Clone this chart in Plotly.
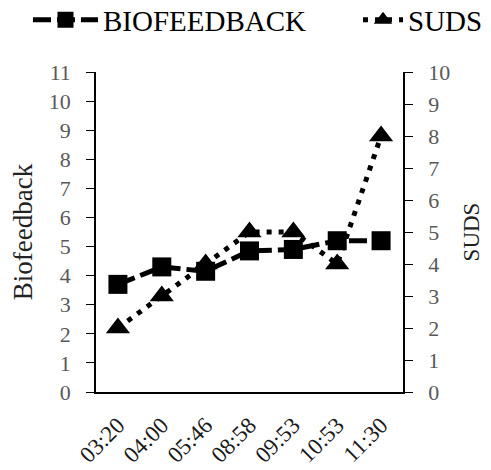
import plotly.graph_objects as go

times = ['03:20', '04:00', '05:46', '08:58', '09:53', '10:53', '11:30']
biofeedback = [3.7, 4.3, 4.15, 4.85, 4.9, 5.2, 5.2]
suds = [2, 3, 4, 5, 5, 4, 8]

serif = 'Times New Roman, Liberation Serif, serif'
grey = '#595959'

# the page body adds an 8px offset, so the figure is drawn 8px smaller
W, H = 483, 462

fig = go.Figure()
fig.add_trace(go.Scatter(x=times, y=biofeedback, name='BIOFEEDBACK', mode='lines+markers',
                         line=dict(color='black', width=5, dash='18px,6px'),
                         marker=dict(symbol='square', size=19, color='black'), legend='legend'))
fig.add_trace(go.Scatter(x=times, y=suds, name='SUDS', mode='lines+markers', yaxis='y2',
                         line=dict(color='black', width=5, dash='5px,7px'),
                         marker=dict(symbol='triangle-up', size=21, color='black'), legend='legend2'))

tick_font = dict(family=serif, size=22, color=grey)
legend_font = dict(family=serif, size=29, color='black')

fig.update_layout(
    width=W, height=H,
    margin=dict(l=88, r=88, t=64, b=78, autoexpand=False),
    paper_bgcolor='white', plot_bgcolor='white',
    font=dict(family=serif, color='black'),
    showlegend=True,
    legend=dict(orientation='h', x=20 / W, xanchor='left', xref='container',
                y=1 - 12 / H, yanchor='middle', yref='container',
                font=legend_font, itemwidth=65, bgcolor='rgba(0,0,0,0)'),
    legend2=dict(orientation='h', x=350 / W, xanchor='left', xref='container',
                 y=1 - 12 / H, yanchor='middle', yref='container',
                 font=legend_font, itemwidth=40, bgcolor='rgba(0,0,0,0)'),
    xaxis=dict(type='category', range=[-0.5, 6.5], showline=True, linecolor='black', linewidth=1.5,
               ticks='', tickangle=-45, tickfont=dict(family=serif, size=23, color='#1a1a1a'),
               ticklabelstandoff=9, showgrid=False, zeroline=False, automargin=False),
    yaxis=dict(range=[0, 11], dtick=1, showline=True, linecolor='black', linewidth=1.5,
               ticks='outside', ticklen=8, tickcolor='black', tickwidth=1.2, ticklabelstandoff=11,
               tickfont=tick_font, showgrid=False, zeroline=False, automargin=False,
               title=dict(text='Biofeedback', font=dict(family=serif, size=27, color='#222'),
                          standoff=19)),
    yaxis2=dict(range=[0, 10], dtick=1, overlaying='y', side='right', showline=True,
                linecolor='black', linewidth=1.5, ticks='outside', ticklen=8, tickcolor='black',
                tickwidth=1.2, ticklabelstandoff=11, tickfont=tick_font, showgrid=False,
                zeroline=False, automargin=False,
                title=dict(text='SUDS', font=dict(family=serif, size=23, color='#222'),
                           standoff=14)),
)

fig.write_html('out.html')
